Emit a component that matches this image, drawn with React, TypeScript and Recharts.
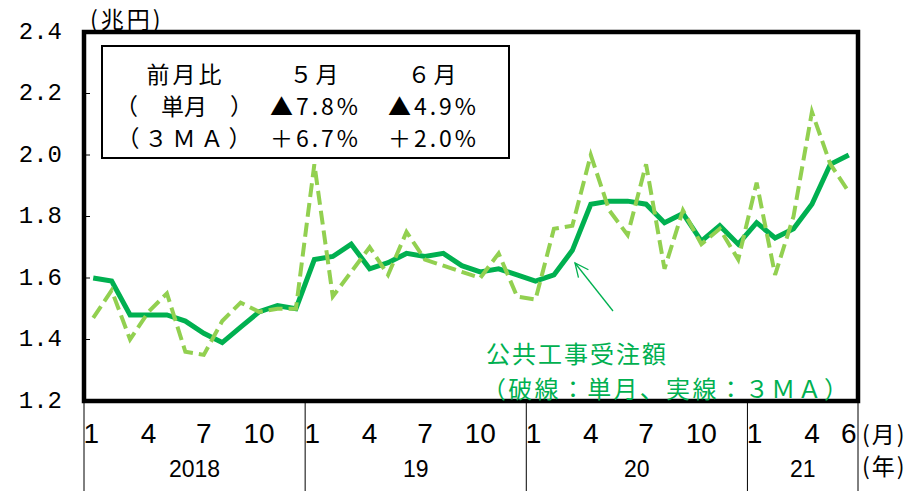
import React from 'react';
import { LineChart, Line, XAxis, YAxis } from 'recharts';

// categories (year/month), Jan 2018 - Jun 2021
const months = [
  '2018/1', '2018/2', '2018/3', '2018/4', '2018/5', '2018/6', '2018/7', '2018/8', '2018/9', '2018/10', '2018/11', '2018/12',
  '2019/1', '2019/2', '2019/3', '2019/4', '2019/5', '2019/6', '2019/7', '2019/8', '2019/9', '2019/10', '2019/11', '2019/12',
  '2020/1', '2020/2', '2020/3', '2020/4', '2020/5', '2020/6', '2020/7', '2020/8', '2020/9', '2020/10', '2020/11', '2020/12',
  '2021/1', '2021/2', '2021/3', '2021/4', '2021/5', '2021/6',
];

const yearLabels: Record<string, string> = { '2018': '2018', '2019': '19', '2020': '20', '2021': '21' };
const monthTickLabels = [1, 4, 7, 10];

// 公共工事受注額 単月 (dashed), 兆円
const singleMonth = [
  1.47, 1.56, 1.40, 1.49, 1.55, 1.36, 1.35, 1.46, 1.52, 1.49, 1.50, 1.50,
  1.97, 1.54, 1.62, 1.70, 1.61, 1.75, 1.66, 1.64, 1.62, 1.60, 1.68, 1.54,
  1.53, 1.76, 1.77, 2.00, 1.82, 1.74, 1.97, 1.63, 1.82, 1.71, 1.76, 1.66,
  1.91, 1.61, 1.80, 2.14, 1.97, 1.88,
];

// 3ヶ月移動平均 (solid)
const threeMA = [
  1.60, 1.59, 1.48, 1.48, 1.48, 1.46, 1.42, 1.39, 1.44, 1.49, 1.51, 1.50,
  1.66, 1.67, 1.71, 1.63, 1.65, 1.68, 1.67, 1.68, 1.64, 1.62, 1.63, 1.61,
  1.59, 1.61, 1.69, 1.84, 1.85, 1.85, 1.84, 1.78, 1.81, 1.72, 1.77, 1.71,
  1.78, 1.73, 1.76, 1.84, 1.97, 2.00,
];

const yTicks = [1.2, 1.4, 1.6, 1.8, 2.0, 2.2, 2.4];

const data = months.map((m, i) => ({ month: m, single: singleMonth[i], ma: threeMA[i] }));

const W = 924;
const H = 491;
const PLOT_LEFT = 84;
const PLOT_RIGHT = 858;
const PLOT_TOP = 32;
const PLOT_BOTTOM = 401;
const BW = (PLOT_RIGHT - PLOT_LEFT) / months.length;

const SOLID = '#00B050';
const DASHED = '#92D050';
const JP = '"Noto Sans CJK JP", "Noto Sans", sans-serif';

const YTick = (props: any) => {
  const { y, payload } = props;
  return (
    <g>
      <text
        x={PLOT_LEFT - 22}
        y={y}
        textAnchor="end"
        dominantBaseline="central"
        fontFamily='"Liberation Mono", "DejaVu Sans Mono", monospace'
        fontSize={24}
        fill="#000"
      >
        {Number(payload.value).toFixed(1)}
      </text>
      <line x1={PLOT_LEFT} x2={PLOT_LEFT + 6} y1={y} y2={y} stroke="#000" strokeWidth={1} />
    </g>
  );
};

const MonthTick = (props: any) => {
  const { x, payload } = props;
  const idx = months.indexOf(payload.value);
  const [yr, mo] = payload.value.split('/');
  const m = Number(mo);
  const isLast = idx === months.length - 1;
  const inYear = months.filter((d) => d.startsWith(yr + '/'));
  const posInYear = inYear.indexOf(payload.value) + 1;
  const showYear = posInYear === Math.floor(inYear.length / 2);
  return (
    <g>
      {(monthTickLabels.includes(m) || isLast) && (
        <text
          x={m === 1 ? x - 2 : x}
          y={433}
          textAnchor="middle"
          dominantBaseline="central"
          fontFamily='"Liberation Sans Narrow", "Liberation Sans", sans-serif'
          fontSize={28}
          fill="#000"
        >
          {m}
        </text>
      )}
      {m === 1 && (
        <line x1={x - BW / 2} x2={x - BW / 2} y1={PLOT_BOTTOM} y2={H} stroke="#000" strokeWidth={1} />
      )}
      {isLast && (
        <line x1={x + BW / 2} x2={x + BW / 2} y1={PLOT_BOTTOM} y2={H} stroke="#000" strokeWidth={1} />
      )}
      {showYear && (
        <text
          x={x + BW / 2}
          y={469}
          textAnchor="middle"
          dominantBaseline="central"
          fontFamily='"Liberation Sans", sans-serif'
          fontSize={23}
          fill="#000"
        >
          {yearLabels[yr]}
        </text>
      )}
    </g>
  );
};

// arrow pointing at the 3MA line
const arrowTip = { x: 575, y: 263 };
const arrowTail = { x: 613, y: 311 };

const Overlay = () => {
  const dx = arrowTip.x - arrowTail.x;
  const dy = arrowTip.y - arrowTail.y;
  const len = Math.sqrt(dx * dx + dy * dy);
  const ux = dx / len;
  const uy = dy / len;
  const head = 15;
  const a = (25 * Math.PI) / 180;
  const rot = (ang: number) => ({
    x: arrowTip.x - head * (ux * Math.cos(ang) - uy * Math.sin(ang)),
    y: arrowTip.y - head * (ux * Math.sin(ang) + uy * Math.cos(ang)),
  });
  const h1 = rot(a);
  const h2 = rot(-a);
  const rowY = [73, 105, 137];
  const cols = [184, 314, 432];
  const cell = (x: number, y: number, s: string, ls = 3) => (
    <text
      x={x + ls / 2}
      y={y}
      textAnchor="middle"
      dominantBaseline="central"
      fontFamily={JP}
      fontSize={23}
      letterSpacing={ls}
      fill="#000"
    >
      {s}
    </text>
  );
  return (
    <svg width={W} height={H} style={{ position: 'absolute', left: 0, top: 0, pointerEvents: 'none' }}>
      {/* plot frame */}
      <rect
        x={PLOT_LEFT}
        y={PLOT_TOP}
        width={PLOT_RIGHT - PLOT_LEFT}
        height={PLOT_BOTTOM - PLOT_TOP}
        fill="none"
        stroke="#000"
        strokeWidth={4.5}
      />
      <text x={90} y={18} dominantBaseline="central" fontFamily={JP} fontSize={23} letterSpacing={3} fill="#000">
        (兆円)
      </text>
      {/* inset table */}
      <rect x={102} y={46} width={407} height={112} fill="#fff" stroke="#000" strokeWidth={2} />
      {cell(cols[0], rowY[0], '前月比')}
      {cell(cols[1], rowY[0], '５月')}
      {cell(cols[2], rowY[0], '６月')}
      {cell(cols[0], rowY[1], '（　単月　）', 0)}
      {cell(cols[1], rowY[1], '▲7.8%')}
      {cell(cols[2], rowY[1], '▲4.9%')}
      {cell(cols[0], rowY[2], '（３ＭＡ）', 5)}
      {cell(cols[1], rowY[2], '＋6.7%')}
      {cell(cols[2], rowY[2], '＋2.0%')}
      {/* annotation */}
      <text x={486} y={352} dominantBaseline="central" fontFamily={JP} fontSize={24} letterSpacing={2} fill={SOLID}>
        公共工事受注額
      </text>
      <text x={482} y={387} dominantBaseline="central" fontFamily={JP} fontSize={24} letterSpacing={2.3} fill={SOLID}>
        （破線：単月、実線：３ＭＡ）
      </text>
      <line x1={arrowTail.x} y1={arrowTail.y} x2={arrowTip.x} y2={arrowTip.y} stroke={SOLID} strokeWidth={1.3} />
      <polyline
        points={`${h1.x},${h1.y} ${arrowTip.x},${arrowTip.y} ${h2.x},${h2.y}`}
        fill="none"
        stroke={SOLID}
        strokeWidth={1.3}
      />
      {/* unit labels on the right */}
      <text x={862} y={433} dominantBaseline="central" fontFamily={JP} fontSize={23} letterSpacing={2} fill="#000">
        (月)
      </text>
      <text x={862} y={465} dominantBaseline="central" fontFamily={JP} fontSize={23} letterSpacing={2} fill="#000">
        (年)
      </text>
    </svg>
  );
};

export default function App() {
  return (
    <div style={{ position: 'absolute', left: 0, top: 0, width: W, height: H, background: '#fff' }}>
      <LineChart
        width={W}
        height={H}
        data={data}
        margin={{ top: PLOT_TOP, right: W - PLOT_RIGHT, bottom: 0, left: 0 }}
      >
        <XAxis
          dataKey="month"
          scale="point"
          padding={{ left: BW / 2, right: BW / 2 }}
          interval={0}
          tickLine={false}
          axisLine={false}
          height={H - PLOT_BOTTOM}
          tick={MonthTick}
        />
        <YAxis
          domain={[1.2, 2.4]}
          ticks={yTicks}
          interval={0}
          width={PLOT_LEFT}
          tickLine={false}
          axisLine={false}
          tick={YTick}
          allowDataOverflow
        />
        <Line
          type="linear"
          dataKey="ma"
          stroke={SOLID}
          strokeWidth={5}
          dot={false}
          activeDot={false}
          isAnimationActive={false}
        />
        <Line
          type="linear"
          dataKey="single"
          stroke={DASHED}
          strokeWidth={4}
          strokeDasharray="14 6"
          dot={false}
          activeDot={false}
          isAnimationActive={false}
        />
      </LineChart>
      <Overlay />
    </div>
  );
}
